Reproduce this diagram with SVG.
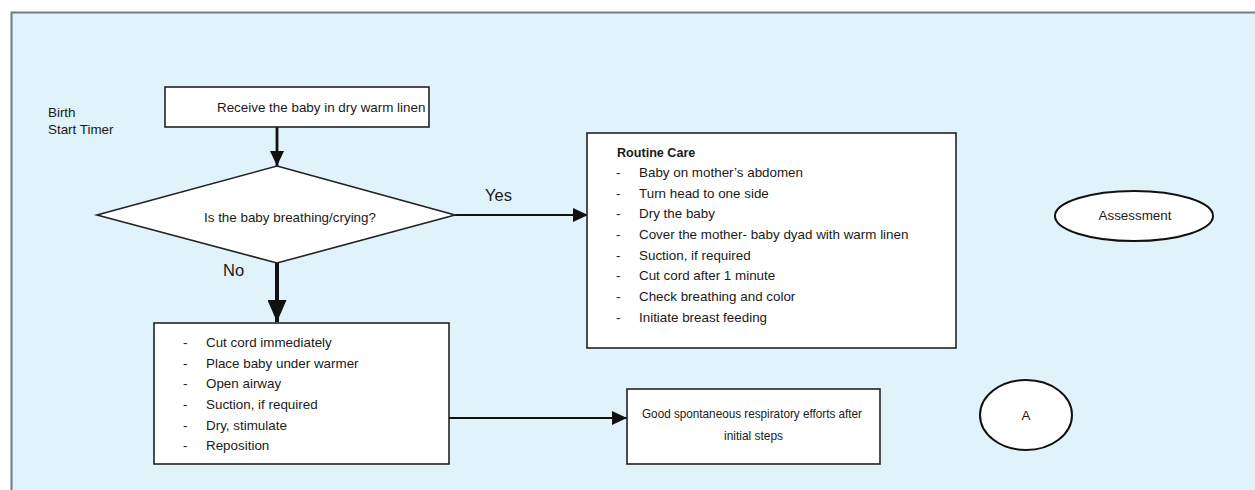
<svg xmlns="http://www.w3.org/2000/svg" width="1255" height="490" viewBox="0 0 1255 490">
<defs>
<style>
.t{font-family:"Liberation Sans",Arial,sans-serif;font-size:13.4px;fill:#1a1a1a}
.b{font-weight:bold;font-size:12.6px}
.lbl{font-size:16.5px}
.box{fill:#fff;stroke:#222;stroke-width:1.6}
.ell{fill:#fff;stroke:#111;stroke-width:2}
.c{fill:none;stroke:#111}
</style>
<marker id="ah" markerUnits="userSpaceOnUse" markerWidth="15" markerHeight="15" refX="15" refY="7" orient="auto" viewBox="0 0 15 14">
<path d="M0,0 L15,7 L0,14 z" fill="#111"/>
</marker>
<marker id="ahL" markerUnits="userSpaceOnUse" markerWidth="22" markerHeight="19" refX="22" refY="9.5" orient="auto" viewBox="0 0 22 19">
<path d="M0,0 L22,9.5 L0,19 z" fill="#111"/>
</marker>
</defs>
<rect width="1255" height="490" fill="#fff"/>
<rect id="panel" x="11.5" y="12.5" width="1260" height="490" fill="#e0f2fa" stroke="#6f7d80" stroke-width="2"/>
<text class="t" x="48" y="117">Birth</text>
<text class="t" x="48" y="134">Start Timer</text>
<g id="connectors">
<line class="c" x1="277" y1="127" x2="277" y2="166" stroke-width="2.8" marker-end="url(#ah)"/>
<line class="c" x1="455" y1="215" x2="588" y2="215" stroke-width="2" marker-end="url(#ah)"/>
<line class="c" x1="277" y1="263" x2="277" y2="322" stroke-width="4" marker-end="url(#ahL)"/>
<line class="c" x1="449" y1="418" x2="627" y2="418" stroke-width="2" marker-end="url(#ah)"/>
<text class="t lbl" x="485" y="201">Yes</text>
<text class="t lbl" x="223" y="276">No</text>
</g>
<g id="receive">
<rect class="box" x="165" y="87" width="264" height="40"/>
<text class="t" x="217" y="112">Receive the baby in dry warm linen</text>
</g>
<g id="decision">
<polygon class="box" points="277,166 455,215 277,263 97,215"/>
<text class="t" x="204" y="222">Is the baby breathing/crying?</text>
</g>
<g id="routine">
<rect class="box" x="587" y="133" width="369" height="215"/>
<text class="t b" x="617" y="157">Routine Care</text>
<text class="t" x="616" y="177">-</text><text class="t" x="639" y="177">Baby on mother’s abdomen</text>
<text class="t" x="616" y="197.7">-</text><text class="t" x="639" y="197.7">Turn head to one side</text>
<text class="t" x="616" y="218.3">-</text><text class="t" x="639" y="218.3">Dry the baby</text>
<text class="t" x="616" y="239">-</text><text class="t" x="639" y="239">Cover the mother- baby dyad with warm linen</text>
<text class="t" x="616" y="259.7">-</text><text class="t" x="639" y="259.7">Suction, if required</text>
<text class="t" x="616" y="280.3">-</text><text class="t" x="639" y="280.3">Cut cord after 1 minute</text>
<text class="t" x="616" y="301">-</text><text class="t" x="639" y="301">Check breathing and color</text>
<text class="t" x="616" y="321.7">-</text><text class="t" x="639" y="321.7">Initiate breast feeding</text>
</g>
<g id="initial">
<rect class="box" x="154" y="323" width="295" height="141"/>
<text class="t" x="183" y="347">-</text><text class="t" x="206" y="347">Cut cord immediately</text>
<text class="t" x="183" y="367.7">-</text><text class="t" x="206" y="367.7">Place baby under warmer</text>
<text class="t" x="183" y="388.3">-</text><text class="t" x="206" y="388.3">Open airway</text>
<text class="t" x="183" y="409">-</text><text class="t" x="206" y="409">Suction, if required</text>
<text class="t" x="183" y="429.7">-</text><text class="t" x="206" y="429.7">Dry, stimulate</text>
<text class="t" x="183" y="450.3">-</text><text class="t" x="206" y="450.3">Reposition</text>
</g>
<g id="good">
<rect class="box" x="627" y="389" width="253" height="75"/>
<text class="t" x="642" y="418" textLength="220" lengthAdjust="spacingAndGlyphs">Good spontaneous respiratory efforts after</text>
<text class="t" x="724" y="440" textLength="59" lengthAdjust="spacingAndGlyphs">initial steps</text>
</g>
<g id="assessment">
<ellipse class="ell" cx="1134" cy="216" rx="79" ry="25"/>
<text class="t" x="1135" y="220" text-anchor="middle">Assessment</text>
</g>
<g id="a">
<ellipse class="ell" cx="1026" cy="415" rx="46" ry="35"/>
<text class="t" x="1026" y="420" text-anchor="middle">A</text>
</g>
</svg>
